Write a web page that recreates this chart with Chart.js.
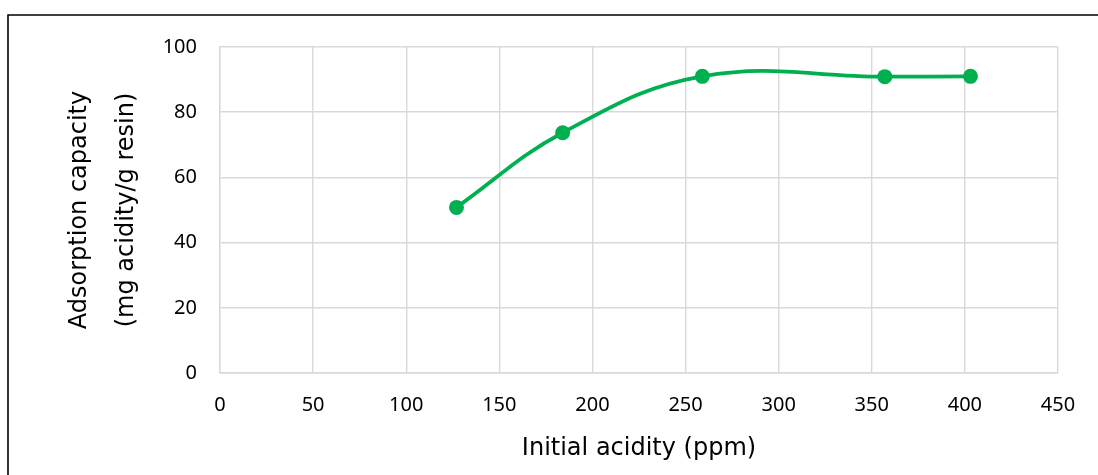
<!DOCTYPE html>
<html>
<head>
<meta charset="utf-8">
<script src="https://cdn.jsdelivr.net/npm/chart.js@4.4.0/dist/chart.umd.min.js"></script>
<style>
  html, body { margin: 0; padding: 0; background: #ffffff; }
  #wrap { width: 1098px; height: 475px; position: relative; }
</style>
</head>
<body>
<div id="wrap"><canvas id="c" width="1098" height="475"></canvas></div>
<script>
// Initial acidity (ppm) and measured adsorption capacity (mg acidity / g resin)
const initialAcidity = [127, 184, 259, 357, 403];
const adsorptionCapacity = [50.8, 73.7, 91.0, 90.9, 91.0];

const xTicks = [0, 50, 100, 150, 200, 250, 300, 350, 400, 450];
const yTicks = [0, 20, 40, 60, 80, 100];

const xTitle = 'Initial acidity (ppm)';
const yTitle = ['Adsorption capacity', '(mg acidity/g resin)'];

const TICK_FONT = '"Noto Sans", "Open Sans", sans-serif';
const TITLE_FONT = '"DejaVu Sans", "Noto Sans", sans-serif';
const GREEN = '#00b050';
const GRID = '#d9d9d9';

// Thin black frame along the top and left edges of the figure
const framePlugin = {
  id: 'frame',
  afterDraw(chart) {
    const ctx = chart.ctx;
    ctx.save();
    ctx.strokeStyle = '#000000';
    ctx.lineWidth = 1.6;
    ctx.beginPath();
    ctx.moveTo(8, chart.height);
    ctx.lineTo(8, 15);
    ctx.lineTo(chart.width, 15);
    ctx.stroke();
    ctx.restore();
  }
};

const points = initialAcidity.map((x, i) => ({ x, y: adsorptionCapacity[i] }));

new Chart(document.getElementById('c'), {
  type: 'scatter',
  data: {
    datasets: [{
      data: points,
      showLine: true,
      borderColor: GREEN,
      backgroundColor: GREEN,
      borderWidth: 3.8,
      tension: 0.4,
      pointRadius: 7.5,
      pointHoverRadius: 7.5,
      pointBackgroundColor: GREEN,
      pointBorderColor: GREEN,
      pointBorderWidth: 0,
      clip: false
    }]
  },
  options: {
    responsive: false,
    animation: false,
    devicePixelRatio: 1,
    layout: { padding: { top: 47, right: 40, left: 0, bottom: 0 } },
    plugins: {
      legend: { display: false },
      tooltip: { enabled: false }
    },
    scales: {
      x: {
        type: 'linear',
        min: 0,
        max: 450,
        afterBuildTicks(scale) { scale.ticks = xTicks.map(v => ({ value: v })); },
        afterFit(scale) { scale.height = 102; },
        grid: { color: GRID, lineWidth: 1.4, drawTicks: false },
        border: { color: GRID, width: 1.4 },
        ticks: {
          padding: 20,
          color: '#000000',
          font: { family: TICK_FONT, size: 20 },
          maxRotation: 0
        },
        title: {
          display: true,
          text: xTitle,
          color: '#000000',
          font: { family: TITLE_FONT, size: 24 },
          padding: { top: 0, bottom: 12 }
        }
      },
      y: {
        type: 'linear',
        min: 0,
        max: 100,
        afterBuildTicks(scale) { scale.ticks = yTicks.map(v => ({ value: v })); },
        afterFit(scale) { scale.width = 220; },
        grid: { color: GRID, lineWidth: 1.4, drawTicks: false },
        border: { color: GRID, width: 1.4 },
        ticks: {
          padding: 23,
          color: '#000000',
          font: { family: TICK_FONT, size: 20 }
        },
        title: {
          display: true,
          text: yTitle,
          color: '#000000',
          font: { family: TITLE_FONT, size: 24, lineHeight: 47 / 24 },
          padding: { top: 56.5, bottom: 0 }
        }
      }
    }
  },
  plugins: [framePlugin]
});
</script>
</body>
</html>
